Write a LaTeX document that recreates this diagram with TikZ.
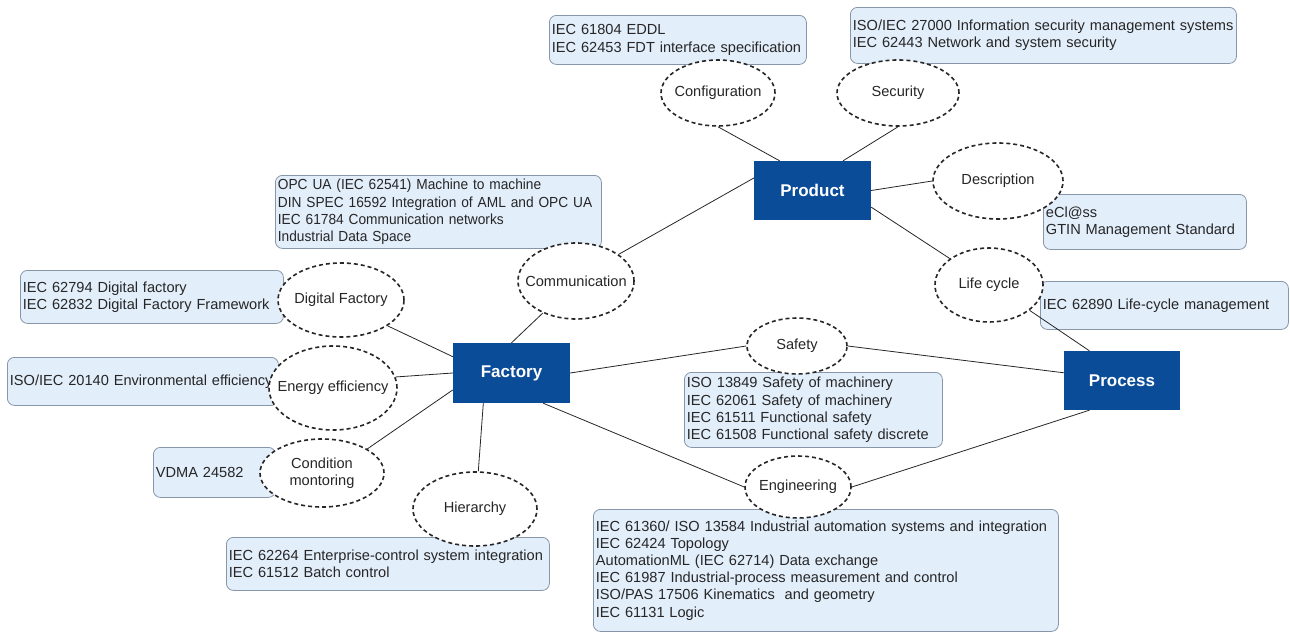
\documentclass[tikz,border=0pt]{standalone}
\usepackage{fontspec}
\setmainfont{Liberation Sans}
\newfontfamily\narrowfont{Liberation Sans}[FakeStretch=0.94]
\usetikzlibrary{shapes.geometric,positioning,calc}
\definecolor{boxfill}{HTML}{E3EEFB}
\definecolor{boxline}{HTML}{8796A8}
\definecolor{darkblue}{HTML}{0A4C98}
\definecolor{inkgray}{HTML}{262626}

\begin{document}
\begin{tikzpicture}[x=1pt, y=-1pt,
    font=\fontsize{14.6}{17.2}\selectfont, text=inkgray,
    stdbox/.style={rectangle, draw=boxline, fill=boxfill, rounded corners=7pt, anchor=north west, align=left, inner xsep=2.5pt, inner ysep=0pt, line width=0.8pt},
    mainbox/.style={rectangle, fill=darkblue, text=white, font=\fontsize{17}{20}\selectfont\bfseries, minimum width=117pt, minimum height=59pt},
    topic/.style={ellipse, draw=inkgray, fill=white, dash pattern=on 4pt off 3pt, line width=1.6pt, inner sep=0pt},
    link/.style={draw=inkgray, line width=0.8pt}
]
    \useasboundingbox (0,0) rectangle (1290,632);

    % standard boxes
    \node[stdbox, text width=252pt, minimum height=49pt] (cfgbox) at (549,15) {IEC 61804 EDDL\\IEC 62453 FDT interface specification};
    \node[stdbox, text width=381pt, minimum height=56pt] (secbox) at (850,7) {ISO/IEC 27000 Information security management systems\\IEC 62443 Network and system security};
    \node[stdbox, text width=321pt, minimum height=73pt, font=\narrowfont\fontsize{14.6}{17.2}\selectfont] (combox) at (275,175) {OPC UA (IEC 62541) Machine to machine\\DIN SPEC 16592 Integration of AML and OPC UA\\IEC 61784 Communication networks\\Industrial Data Space};
    \node[stdbox, text width=198pt, minimum height=55pt] (descbox) at (1043,194) {eCl@ss\\GTIN Management Standard};
    \node[stdbox, text width=243pt, minimum height=48pt] (lifebox) at (1040,281) {IEC 62890 Life-cycle management};
    \node[stdbox, text width=258pt, minimum height=53pt] (dfbox) at (20,270) {IEC 62794 Digital factory\\IEC 62832 Digital Factory Framework};
    \node[stdbox, text width=266pt, minimum height=48pt] (enbox) at (7,357) {ISO/IEC 20140 Environmental efficiency};
    \node[stdbox, text width=117pt, minimum height=50pt] (cmbox) at (153,447) {VDMA 24582};
    \node[stdbox, text width=318pt, minimum height=53pt] (hierbox) at (226,537) {IEC 62264 Enterprise-control system integration\\IEC 61512 Batch control};
    \node[stdbox, text width=253pt, minimum height=75pt] (safbox) at (684,372) {ISO 13849 Safety of machinery\\IEC 62061 Safety of machinery\\IEC 61511 Functional safety\\IEC 61508 Functional safety discrete};
    \node[stdbox, text width=460pt, minimum height=122pt] (engbox) at (593,509) {IEC 61360/ ISO 13584 Industrial automation systems and integration\\IEC 62424 Topology\\AutomationML (IEC 62714) Data exchange\\IEC 61987 Industrial-process measurement and control\\ISO/PAS 17506 Kinematics\ \ and geometry\\IEC 61131 Logic};

    % main nodes
    \node[mainbox] (prod) at (812.5,190.5) {Product};
    \node[mainbox, minimum height=60pt] (fact) at (511.5,373) {Factory};
    \node[mainbox, minimum width=116pt] (proc) at (1122,380.5) {Process};

    % topics
    \node[topic, minimum width=114pt, minimum height=66pt, label=center:Configuration] (cfg) at (718,93) {};
    \node[topic, minimum width=122pt, minimum height=66pt, label=center:Security] (sec) at (898,93) {};
    \node[topic, minimum width=130pt, minimum height=76pt, label=center:Description] (desc) at (998,181) {};
    \node[topic, minimum width=108pt, minimum height=74pt, label=center:Life cycle] (life) at (989,285) {};
    \node[topic, minimum width=116pt, minimum height=76pt, label=center:Communication] (com) at (576,281) {};
    \node[topic, minimum width=126pt, minimum height=74pt, label=center:Digital Factory] (df) at (341,300) {};
    \node[topic, minimum width=128pt, minimum height=84pt, label=center:Energy efficiency] (en) at (333,388) {};
    \node[topic, minimum width=124pt, minimum height=68pt, label={[align=center]center:Condition\\montoring}] (cm) at (322,473) {};
    \node[topic, minimum width=124pt, minimum height=74pt, label=center:Hierarchy] (hier) at (475,509) {};
    \node[topic, minimum width=100pt, minimum height=56pt, label=center:Safety] (saf) at (797,346) {};
    \node[topic, minimum width=106pt, minimum height=62pt, label=center:Engineering] (eng) at (798,487) {};

    % links
    \draw[link] (cfg.south) -- ($(prod.north west)!0.22!(prod.north east)$);
    \draw[link] (sec.south) -- ($(prod.north west)!0.76!(prod.north east)$);
    \draw[link] (prod.east) -- (desc.west);
    \draw[link] ($(prod.north east)!0.78!(prod.south east)$) -- (life.146);
    \draw[link] ($(prod.north west)!0.29!(prod.south west)$) -- (com.32);
    \draw[link] (com.224) -- (fact.north);
    \draw[link] (df.331) -- ($(fact.north west)!0.23!(fact.south west)$);
    \draw[link] (en.10) -- (fact.west);
    \draw[link] (cm.28) -- ($(fact.north west)!0.78!(fact.south west)$);
    \draw[link] (hier.85) -- ($(fact.south west)!0.26!(fact.south east)$);
    \draw[link] (fact.east) -- (saf.west);
    \draw[link] ($(fact.south west)!0.77!(fact.south east)$) -- (eng.west);
    \draw[link] (saf.east) -- ($(proc.north west)!0.37!(proc.south west)$);
    \draw[link] (eng.east) -- ($(proc.south west)!0.22!(proc.south east)$);
    \draw[link] (life.328) -- ($(proc.north west)!0.22!(proc.north east)$);
\end{tikzpicture}
\end{document}
